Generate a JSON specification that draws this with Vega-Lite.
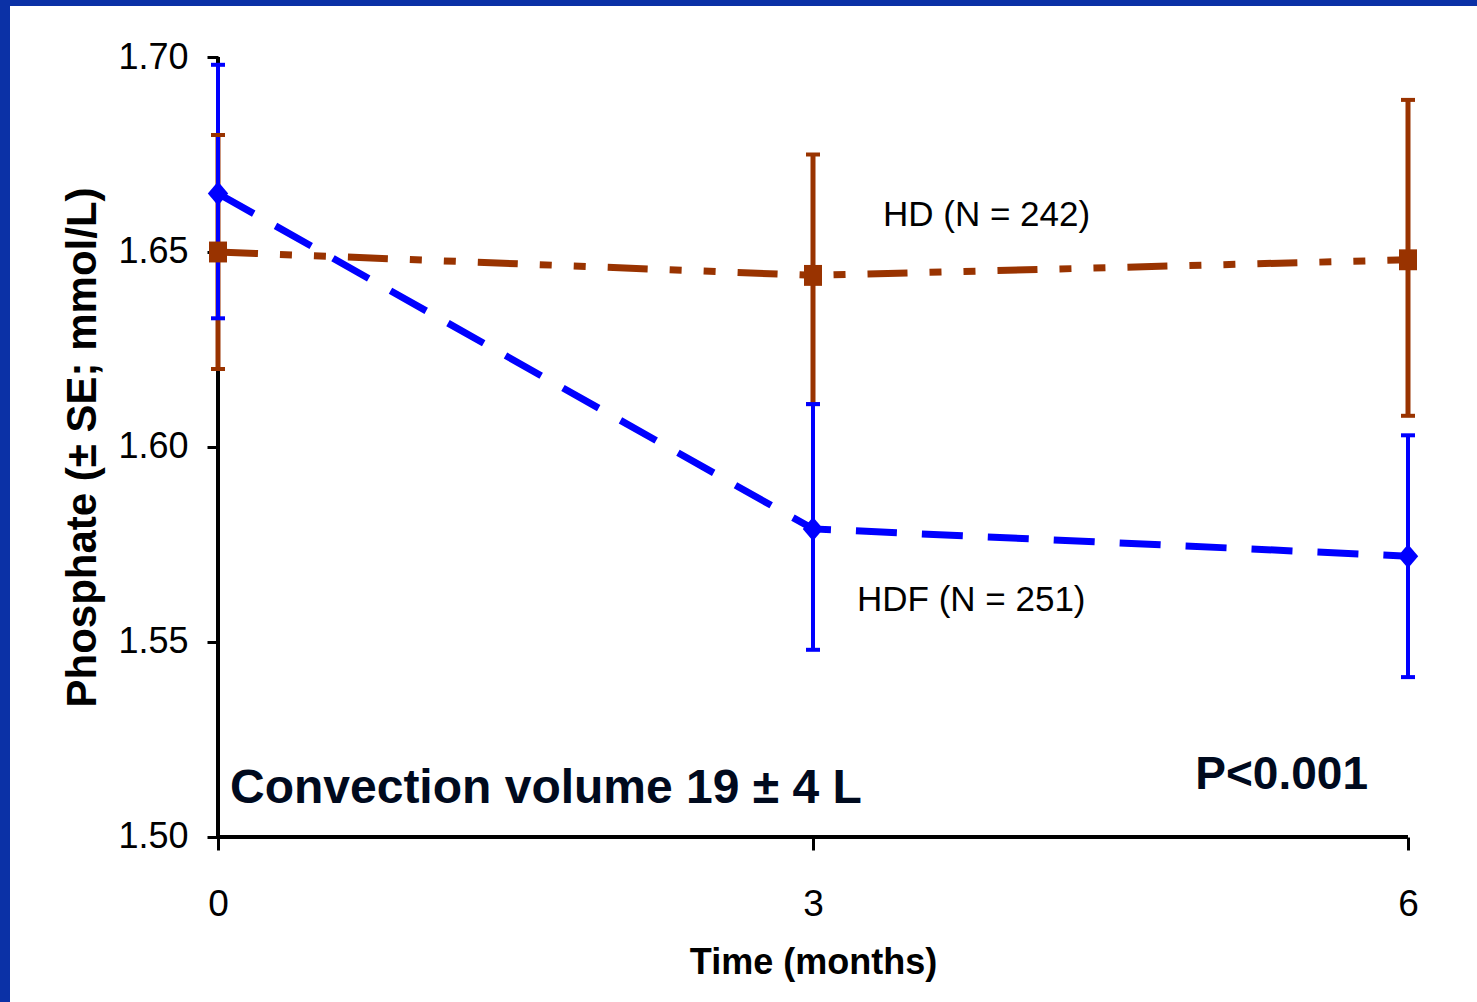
{
  "$schema": "https://vega.github.io/schema/vega-lite/v6.json",
  "width": 1467,
  "height": 996,
  "autosize": {"type": "none"},
  "padding": {"left": 10, "top": 6, "right": 0, "bottom": 0},
  "background": "#0b31a6",
  "config": {"view": {"fill": "white", "stroke": null}, "font": "Liberation Sans"},
  "datasets": {
    "phos": [
      {"series": "HD", "month": 0, "mean": 1.650, "lo": 1.620, "hi": 1.680},
      {"series": "HD", "month": 3, "mean": 1.644, "lo": 1.611, "hi": 1.675},
      {"series": "HD", "month": 6, "mean": 1.648, "lo": 1.608, "hi": 1.689},
      {"series": "HDF", "month": 0, "mean": 1.665, "lo": 1.633, "hi": 1.698},
      {"series": "HDF", "month": 3, "mean": 1.579, "lo": 1.548, "hi": 1.611},
      {"series": "HDF", "month": 6, "mean": 1.572, "lo": 1.541, "hi": 1.603}
    ],
    "one": [{}]
  },
  "layer": [
    {
      "data": {"name": "one"},
      "mark": {"type": "rule", "color": "black", "strokeWidth": 4},
      "encoding": {
        "x": {"datum": 0, "type": "quantitative", "scale": {"domain": [-1.04874, 6.3479], "nice": false, "zero": false}},
        "x2": {"datum": 6},
        "y": {"datum": 1.5, "type": "quantitative", "scale": {"domain": [1.457692, 1.713077], "nice": false, "zero": false}}
      }
    },
    {
      "data": {"name": "one"},
      "mark": {"type": "rule", "color": "black", "strokeWidth": 4},
      "encoding": {
        "x": {"datum": 0, "type": "quantitative"},
        "y": {"datum": 1.5, "type": "quantitative"},
        "y2": {"datum": 1.7}
      }
    },
    {
      "data": {"name": "phos"},
      "mark": {"type": "rule"},
      "encoding": {
        "x": {
          "field": "month", "type": "quantitative",
          "scale": {"domain": [-1.04874, 6.3479], "nice": false, "zero": false},
          "axis": {
            "values": [0, 3, 6], "format": "d", "offset": -165, "domain": false, "grid": false,
            "tickSize": 13, "tickWidth": 3, "tickColor": "black",
            "labelFont": "Liberation Sans", "labelFontSize": 37, "labelColor": "black", "labelPadding": 36,
            "title": "Time (months)", "titleFont": "Liberation Sans", "titleFontWeight": "bold", "titleFontSize": 36,
            "titleColor": "black", "titleX": 803, "titleY": 136, "titleAlign": "center", "titleBaseline": "alphabetic"
          }
        },
        "y": {
          "field": "lo", "type": "quantitative",
          "scale": {"domain": [1.457692, 1.713077], "nice": false, "zero": false},
          "axis": {
            "values": [1.5, 1.55, 1.6, 1.65, 1.7], "format": ".2f", "offset": -208, "domain": false, "grid": false,
            "tickSize": 11, "tickWidth": 3, "tickColor": "black",
            "labelFont": "Liberation Sans", "labelFontSize": 36, "labelColor": "black", "labelPadding": 19,
            "title": "Phosphate (± SE; mmol/L)", "titleFont": "Liberation Sans", "titleFontWeight": "bold", "titleFontSize": 42,
            "titleColor": "black", "titleAngle": -90, "titleX": -123, "titleY": 441, "titleAlign": "center", "titleBaseline": "alphabetic"
          }
        },
        "y2": {"field": "hi"},
        "color": {"field": "series", "type": "nominal", "scale": {"domain": ["HDF", "HD"], "range": ["#0000ff", "#993300"]}, "legend": null},
        "strokeWidth": {"field": "series", "type": "nominal", "scale": {"domain": ["HDF", "HD"], "range": [4, 5]}, "legend": null}
      }
    },
    {
      "data": {"name": "phos"},
      "mark": {"type": "tick", "orient": "horizontal", "size": 14, "thickness": 4, "opacity": 1},
      "encoding": {
        "x": {"field": "month", "type": "quantitative"},
        "y": {"field": "lo", "type": "quantitative"},
        "color": {"field": "series", "type": "nominal", "legend": null}
      }
    },
    {
      "data": {"name": "phos"},
      "mark": {"type": "tick", "orient": "horizontal", "size": 14, "thickness": 4, "opacity": 1},
      "encoding": {
        "x": {"field": "month", "type": "quantitative"},
        "y": {"field": "hi", "type": "quantitative"},
        "color": {"field": "series", "type": "nominal", "legend": null}
      }
    },
    {
      "data": {"name": "phos"},
      "mark": {"type": "line", "strokeWidth": 7, "strokeCap": "butt"},
      "encoding": {
        "x": {"field": "month", "type": "quantitative"},
        "y": {"field": "mean", "type": "quantitative"},
        "color": {"field": "series", "type": "nominal", "legend": null},
        "strokeDash": {"field": "series", "type": "nominal", "scale": {"domain": ["HDF", "HD"], "range": [[41, 25], [40, 22, 12, 22, 12, 22]]}, "legend": null}
      }
    },
    {
      "data": {"name": "phos"},
      "mark": {"type": "point", "filled": true, "opacity": 1, "strokeWidth": 0},
      "encoding": {
        "x": {"field": "month", "type": "quantitative"},
        "y": {"field": "mean", "type": "quantitative"},
        "color": {"field": "series", "type": "nominal", "legend": null},
        "shape": {"field": "series", "type": "nominal", "scale": {"domain": ["HDF", "HD"], "range": ["M-0.85,0L0,-1L0.85,0L0,1Z", "M-0.82,-0.95L0.82,-0.95L0.82,0.95L-0.82,0.95Z"]}, "legend": null},
        "size": {"field": "series", "type": "nominal", "scale": {"domain": ["HDF", "HD"], "range": [576, 484]}, "legend": null}
      }
    },
    {
      "data": {"name": "one"},
      "mark": {"type": "text", "font": "Liberation Sans", "fontSize": 35, "align": "left", "baseline": "middle", "color": "black"},
      "encoding": {
        "x": {"datum": 3.3529, "type": "quantitative"},
        "y": {"datum": 1.65936, "type": "quantitative"},
        "text": {"value": "HD (N = 242)"}
      }
    },
    {
      "data": {"name": "one"},
      "mark": {"type": "text", "font": "Liberation Sans", "fontSize": 35, "align": "left", "baseline": "middle", "color": "black"},
      "encoding": {
        "x": {"datum": 3.2218, "type": "quantitative"},
        "y": {"datum": 1.56077, "type": "quantitative"},
        "text": {"value": "HDF (N = 251)"}
      }
    },
    {
      "data": {"name": "one"},
      "mark": {"type": "text", "font": "Liberation Sans", "fontSize": 48, "fontWeight": "bold", "align": "left", "baseline": "middle", "color": "#000a1e"},
      "encoding": {
        "x": {"datum": 0.0605, "type": "quantitative"},
        "y": {"datum": 1.51218, "type": "quantitative"},
        "text": {"value": "Convection volume 19 ± 4 L"}
      }
    },
    {
      "data": {"name": "one"},
      "mark": {"type": "text", "font": "Liberation Sans", "fontSize": 46, "fontWeight": "bold", "align": "right", "baseline": "middle", "color": "#000a1e"},
      "encoding": {
        "x": {"datum": 5.7983, "type": "quantitative"},
        "y": {"datum": 1.5159, "type": "quantitative"},
        "text": {"value": "P<0.001"}
      }
    }
  ]
}
